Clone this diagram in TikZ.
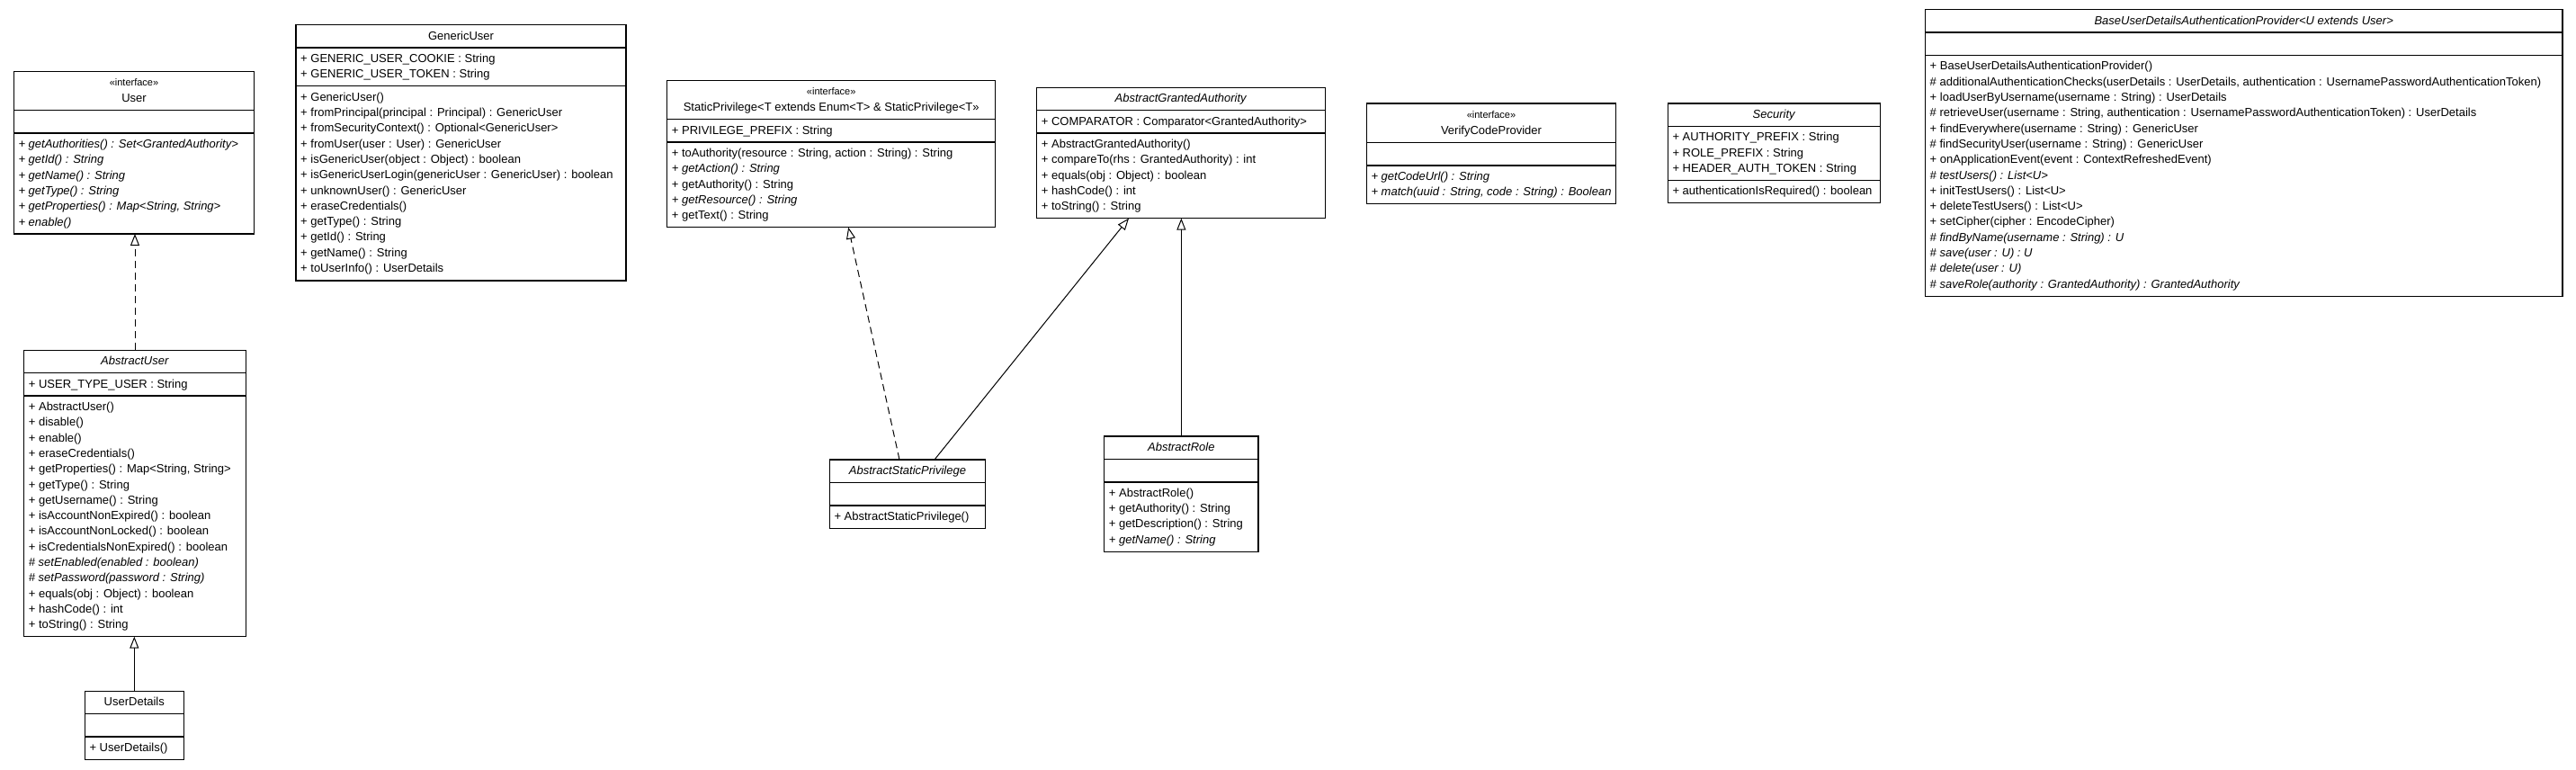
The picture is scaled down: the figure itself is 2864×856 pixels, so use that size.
\documentclass[tikz,border=0pt]{standalone}
\usepackage{fontspec}
\setmainfont{Liberation Sans}
\usetikzlibrary{arrows.meta}
\newcommand{\uf}{\fontsize{13}{16}\selectfont}
\newcommand{\stereof}{\fontsize{11}{13}\selectfont}
\tikzset{
  cls/.style={draw, line width=1.1pt, inner sep=0pt, outer sep=0pt, anchor=north west},
  divl/.style={line width=1.4pt},
  txt/.style={font=\uf, inner sep=0pt, anchor=base west},
  ttl/.style={font=\uf, inner sep=0pt, anchor=base},
  stereo/.style={font=\stereof, inner sep=0pt, anchor=base},
  gen/.style={-{Triangle[open,length=13pt,width=10pt]}, line width=1pt},
  realz/.style={gen, dash pattern=on 8pt off 5pt}
}
% name, x1, x2, top, div1, div2, bottom
\newcommand{\umlbox}[7]{%
  \node[cls, minimum width={#3-#2}, minimum height={#7-#4}] (#1) at (#2,#4) {};
  \draw[divl] (#2,#5) -- (#3,#5);
  \draw[divl] (#2,#6) -- (#3,#6);
}
% prefix, x, first baseline, list
\newcommand{\umllines}[4]{%
  \foreach \t [count=\i] in {#4} {\node[txt] (#1\i) at (#2, {#3+(\i-1)*17.3}) {\t};}
}
\begin{document}
\begin{tikzpicture}[x=1pt, y=-1pt]
\useasboundingbox (0,0) rectangle (2864,856);

% User
\umlbox{User}{15.3}{282.7}{79.3}{122.7}{148.1}{260}
\node[stereo] (Users) at (149,95.7) {«interface»};
\node[ttl] (Usert) at (149,113.5) {User};
\umllines{Userm}{20.3}{164.5}{{\textit{+ getAuthorities() : Set<GrantedAuthority>}},{\textit{+ getId() : String}},{\textit{+ getName() : String}},{\textit{+ getType() : String}},{\textit{+ getProperties() : Map<String, String>}},{\textit{+ enable()}}}

% AbstractUser
\umlbox{AUser}{26.7}{273.3}{389.3}{414.7}{440.1}{707.7}
\node[ttl] (AUsert) at (150,405.7) {\textit{AbstractUser}};
\umllines{AUsera}{31.7}{431.1}{{+ USER\_TYPE\_USER : String}}
\umllines{AUserm}{31.7}{456.5}{{+ AbstractUser()},{+ disable()},{+ enable()},{+ eraseCredentials()},{+ getProperties() : Map<String, String>},{+ getType() : String},{+ getUsername() : String},{+ isAccountNonExpired() : boolean},{+ isAccountNonLocked() : boolean},{+ isCredentialsNonExpired() : boolean},{\textit{\# setEnabled(enabled : boolean)}},{\textit{\# setPassword(password : String)}},{+ equals(obj : Object) : boolean},{+ hashCode() : int},{+ toString() : String}}

% UserDetails
\umlbox{UDet}{94.3}{204.3}{768.3}{793.7}{819.1}{844.5}
\node[ttl] (UDett) at (149.3,784.7) {UserDetails};
\umllines{UDetm}{99.3}{835.5}{{+ UserDetails()}}

% GenericUser
\umlbox{GUser}{329}{696}{27.7}{53.1}{95.8}{312}
\node[ttl] (GUsert) at (512.5,44.1) {GenericUser};
\umllines{GUsera}{334}{69.5}{{+ GENERIC\_USER\_COOKIE : String},{+ GENERIC\_USER\_TOKEN : String}}
\umllines{GUserm}{334}{112.2}{{+ GenericUser()},{+ fromPrincipal(principal : Principal) : GenericUser},{+ fromSecurityContext() : Optional<GenericUser>},{+ fromUser(user : User) : GenericUser},{+ isGenericUser(object : Object) : boolean},{+ isGenericUserLogin(genericUser : GenericUser) : boolean},{+ unknownUser() : GenericUser},{+ eraseCredentials()},{+ getType() : String},{+ getId() : String},{+ getName() : String},{+ toUserInfo() : UserDetails}}

% StaticPrivilege
\umlbox{SPriv}{741.7}{1106.7}{89.3}{132.7}{158.1}{252.7}
\node[stereo] (SPrivs) at (924.2,105.7) {«interface»};
\node[ttl] (SPrivt) at (924.2,123.5) {StaticPrivilege<T extends Enum<T> \& StaticPrivilege<T>>};
\umllines{SPriva}{746.7}{149.1}{{+ PRIVILEGE\_PREFIX : String}}
\umllines{SPrivm}{746.7}{174.5}{{+ toAuthority(resource : String, action : String) : String},{\textit{+ getAction() : String}},{+ getAuthority() : String},{\textit{+ getResource() : String}},{+ getText() : String}}

% AbstractGrantedAuthority
\umlbox{AGA}{1152.7}{1473.3}{97.3}{122.7}{148.1}{242.7}
\node[ttl] (AGAt) at (1313,113.7) {\textit{AbstractGrantedAuthority}};
\umllines{AGAa}{1157.7}{139.1}{{+ COMPARATOR : Comparator<GrantedAuthority>}}
\umllines{AGAm}{1157.7}{164.5}{{+ AbstractGrantedAuthority()},{+ compareTo(rhs : GrantedAuthority) : int},{+ equals(obj : Object) : boolean},{+ hashCode() : int},{+ toString() : String}}

% VerifyCodeProvider
\umlbox{VCP}{1519.3}{1796.7}{115}{158.4}{183.8}{226.5}
\node[stereo] (VCPs) at (1658,131.4) {«interface»};
\node[ttl] (VCPt) at (1658,149.2) {VerifyCodeProvider};
\umllines{VCPm}{1524.3}{200.2}{{\textit{+ getCodeUrl() : String}},{\textit{+ match(uuid : String, code : String) : Boolean}}}

% Security
\umlbox{Sec}{1854.3}{2090.7}{115}{140.4}{200.4}{225.8}
\node[ttl] (Sect) at (1972.5,131.4) {\textit{Security}};
\umllines{Seca}{1859.3}{156.8}{{+ AUTHORITY\_PREFIX : String},{+ ROLE\_PREFIX : String},{+ HEADER\_AUTH\_TOKEN : String}}
\umllines{Secm}{1859.3}{216.8}{{+ authenticationIsRequired() : boolean}}

% BaseUserDetailsAuthenticationProvider
\umlbox{BUD}{2140.5}{2849}{10.7}{36.1}{61.5}{329.1}
\node[ttl] (BUDt) at (2494.7,27.1) {\textit{BaseUserDetailsAuthenticationProvider<U extends User>}};
\umllines{BUDm}{2145.5}{77.9}{{+ BaseUserDetailsAuthenticationProvider()},{\# additionalAuthenticationChecks(userDetails : UserDetails, authentication : UsernamePasswordAuthenticationToken)},{+ loadUserByUsername(username : String) : UserDetails},{\# retrieveUser(username : String, authentication : UsernamePasswordAuthenticationToken) : UserDetails},{+ findEverywhere(username : String) : GenericUser},{\# findSecurityUser(username : String) : GenericUser},{+ onApplicationEvent(event : ContextRefreshedEvent)},{\textit{\# testUsers() : List<U>}},{+ initTestUsers() : List<U>},{+ deleteTestUsers() : List<U>},{+ setCipher(cipher : EncodeCipher)},{\textit{\# findByName(username : String) : U}},{\textit{\# save(user : U) : U}},{\textit{\# delete(user : U)}},{\textit{\# saveRole(authority : GrantedAuthority) : GrantedAuthority}}}

% AbstractStaticPrivilege
\umlbox{ASP}{922.3}{1095.7}{511}{536.4}{561.8}{587.2}
\node[ttl] (ASPt) at (1009,527.4) {\textit{AbstractStaticPrivilege}};
\umllines{ASPm}{927.3}{578.2}{{+ AbstractStaticPrivilege()}}

% AbstractRole
\umlbox{ARole}{1227.7}{1399}{485}{510.4}{535.8}{613.1}
\node[ttl] (ARolet) at (1313.3,501.4) {\textit{AbstractRole}};
\umllines{ARolem}{1232.7}{552.2}{{+ AbstractRole()},{+ getAuthority() : String},{+ getDescription() : String},{\textit{+ getName() : String}}}

% connectors
\draw[realz] (AUser.north) -- (AUser.north |- User.south);
\draw[gen] (UDet.north) -- (UDet.north |- AUser.south);
\draw[realz] ([xshift=-9pt]ASP.north) -- ([xshift=19pt]SPriv.south);
\draw[gen] ([xshift=30pt]ASP.north) -- ([xshift=-58pt]AGA.south);
\draw[gen] (ARole.north) -- (ARole.north |- AGA.south);
\end{tikzpicture}
\end{document}
